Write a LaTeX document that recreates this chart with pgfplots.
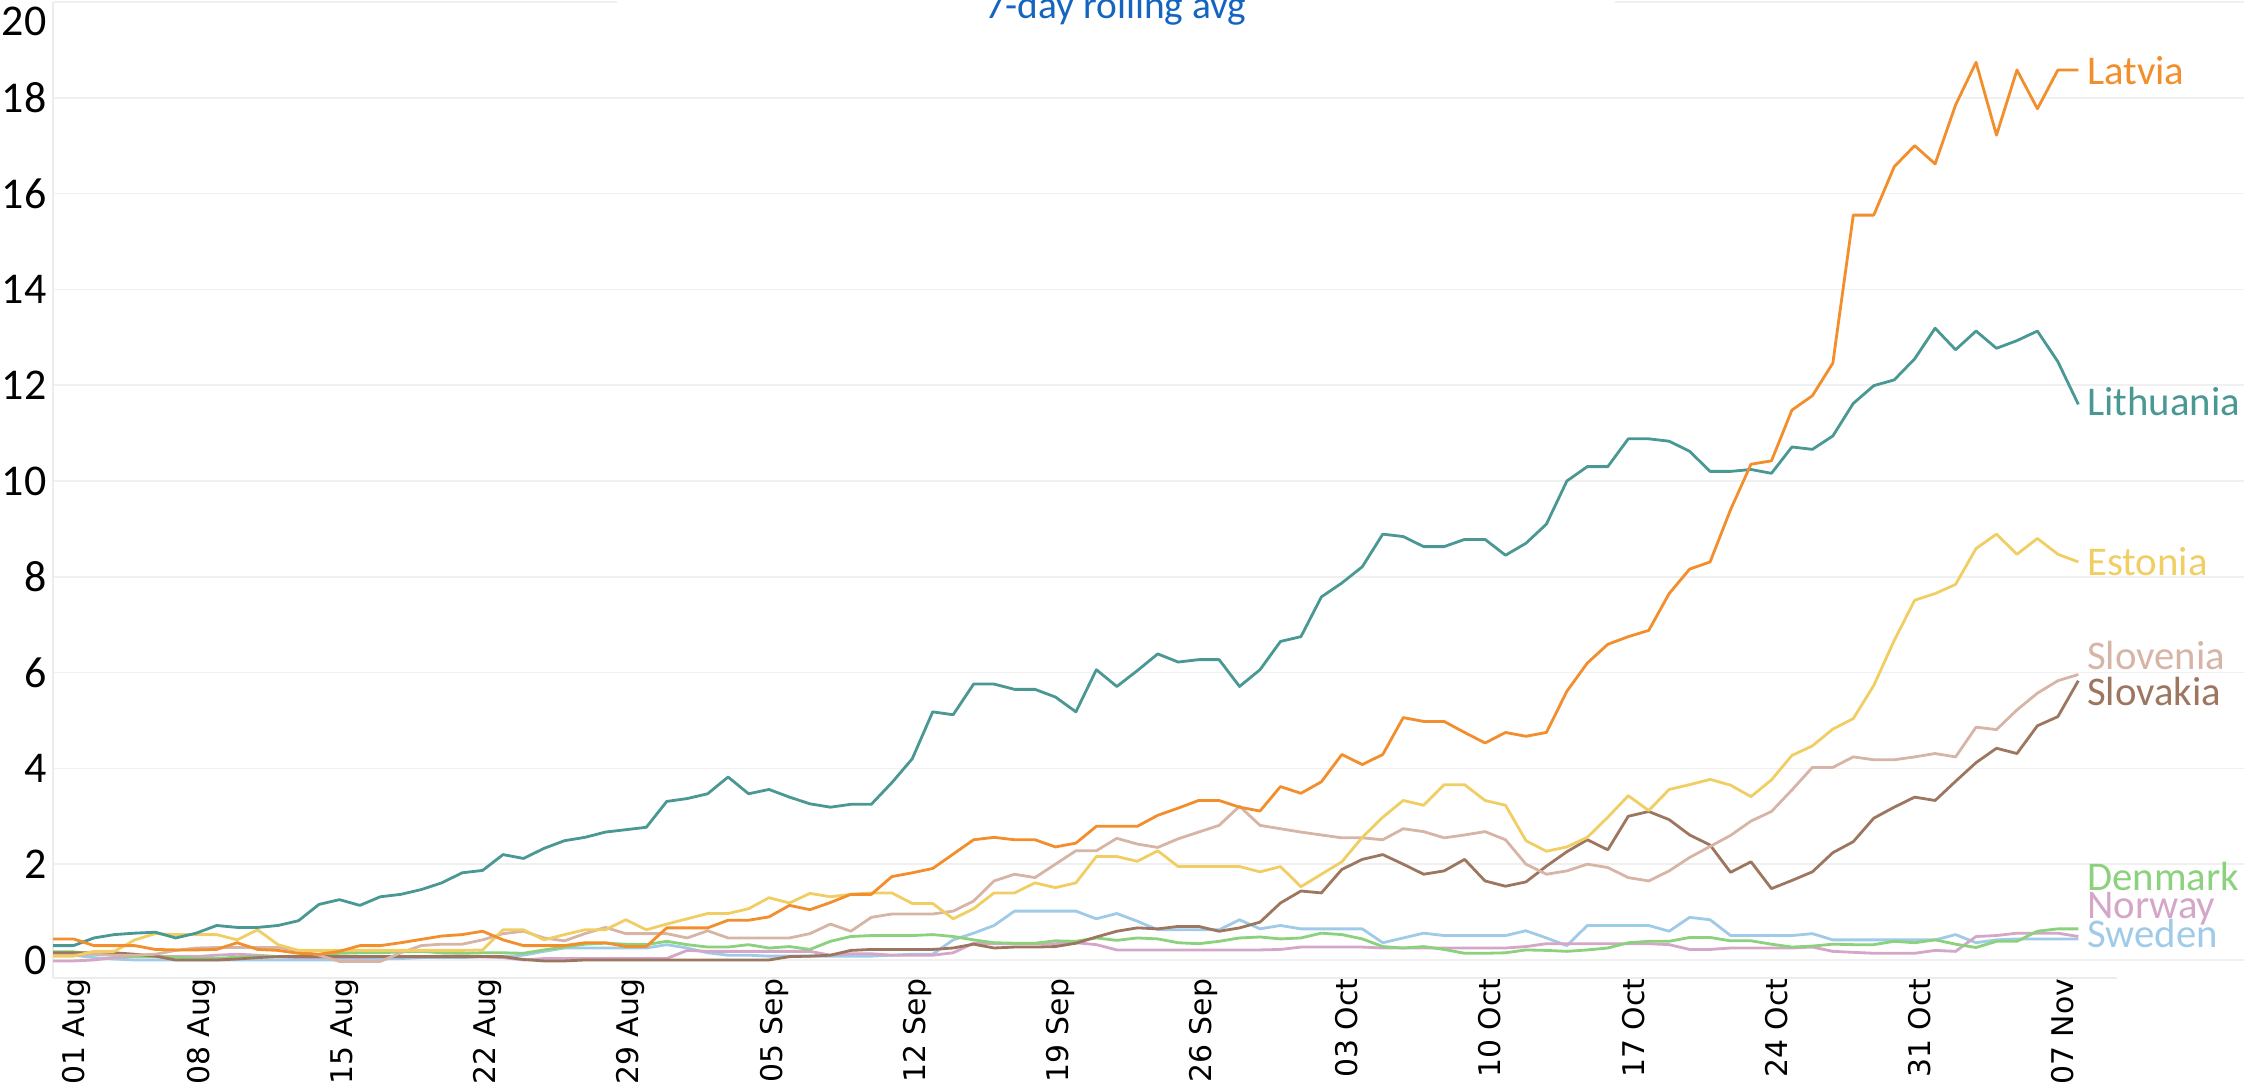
\documentclass[border=0pt]{standalone}
\usepackage{fontspec}
\setmainfont{Carlito}
\newfontfamily\dejavu{DejaVu Sans}
\usepackage{pgfplots}
\usepackage{pgfplotstable}
\pgfplotsset{compat=1.18}
\definecolor{clatvia}{HTML}{F28E2B}
\definecolor{clithuania}{HTML}{499894}
\definecolor{cestonia}{HTML}{F1CE63}
\definecolor{cslovenia}{HTML}{D7B5A6}
\definecolor{cslovakia}{HTML}{9D7660}
\definecolor{cdenmark}{HTML}{8CD17D}
\definecolor{cnorway}{HTML}{D4A6C8}
\definecolor{csweden}{HTML}{A0CBE8}
\definecolor{ctitle}{HTML}{1565C0}
\pgfplotstableread{
d Lv L E Sn Sk D N S
0 0.44 0.30 0.08 0.10 0.15 0.17 -0.02 0.10
1 0.44 0.30 0.08 0.10 0.15 0.17 -0.02 0.10
2 0.30 0.46 0.18 0.12 0.15 0.12 0.00 0.05
3 0.30 0.53 0.18 0.10 0.15 0.10 0.05 0.02
4 0.30 0.56 0.42 0.10 0.12 0.07 0.07 0.00
5 0.22 0.58 0.55 0.12 0.08 0.07 0.07 0.00
6 0.21 0.46 0.53 0.20 0.00 0.06 0.07 0.00
7 0.21 0.56 0.53 0.25 0.00 0.03 0.07 0.00
8 0.22 0.72 0.53 0.26 0.00 0.03 0.10 0.00
9 0.36 0.68 0.42 0.26 0.02 0.06 0.12 0.00
10 0.22 0.68 0.63 0.26 0.05 0.07 0.10 0.00
11 0.20 0.72 0.32 0.26 0.07 0.07 0.07 0.00
12 0.14 0.82 0.20 0.20 0.07 0.08 0.05 0.00
13 0.12 1.16 0.20 0.10 0.07 0.10 0.05 0.00
14 0.18 1.26 0.20 -0.03 0.07 0.14 0.05 0.00
15 0.30 1.14 0.20 -0.03 0.07 0.15 0.05 0.00
16 0.30 1.32 0.20 -0.03 0.07 0.15 0.07 0.02
17 0.36 1.37 0.20 0.15 0.07 0.17 0.07 0.03
18 0.43 1.47 0.20 0.30 0.07 0.18 0.07 0.05
19 0.50 1.61 0.20 0.33 0.07 0.15 0.08 0.05
20 0.53 1.82 0.20 0.33 0.07 0.14 0.08 0.05
21 0.60 1.87 0.21 0.42 0.07 0.15 0.07 0.07
22 0.42 2.20 0.63 0.55 0.07 0.15 0.05 0.07
23 0.30 2.12 0.63 0.60 0.01 0.14 0.00 0.10
24 0.30 2.33 0.42 0.46 -0.02 0.21 0.03 0.18
25 0.30 2.49 0.53 0.40 -0.02 0.27 0.03 0.25
26 0.36 2.56 0.63 0.55 0.00 0.33 0.03 0.25
27 0.36 2.67 0.63 0.68 0.00 0.35 0.03 0.25
28 0.28 2.72 0.84 0.55 0.00 0.33 0.03 0.25
29 0.28 2.77 0.63 0.55 0.00 0.32 0.03 0.25
30 0.67 3.31 0.75 0.55 0.00 0.39 0.03 0.32
31 0.67 3.37 0.86 0.46 0.00 0.32 0.20 0.25
32 0.67 3.47 0.97 0.61 0.00 0.27 0.18 0.15
33 0.83 3.82 0.97 0.46 0.00 0.27 0.18 0.10
34 0.83 3.47 1.07 0.46 0.00 0.32 0.18 0.10
35 0.90 3.56 1.30 0.46 0.00 0.25 0.18 0.08
36 1.14 3.40 1.19 0.46 0.07 0.28 0.18 0.08
37 1.05 3.26 1.39 0.55 0.08 0.22 0.18 0.08
38 1.20 3.19 1.32 0.75 0.10 0.39 0.10 0.08
39 1.37 3.25 1.37 0.60 0.20 0.49 0.13 0.08
40 1.37 3.25 1.40 0.89 0.22 0.51 0.13 0.08
41 1.74 3.70 1.40 0.96 0.22 0.51 0.10 0.10
42 1.82 4.20 1.18 0.96 0.22 0.51 0.10 0.12
43 1.91 5.18 1.18 0.96 0.22 0.53 0.10 0.12
44 2.21 5.12 0.86 1.02 0.25 0.49 0.15 0.42
45 2.51 5.76 1.07 1.23 0.33 0.42 0.35 0.56
46 2.56 5.76 1.40 1.65 0.25 0.36 0.34 0.72
47 2.51 5.65 1.40 1.79 0.27 0.35 0.34 1.02
48 2.51 5.65 1.61 1.72 0.27 0.35 0.34 1.02
49 2.36 5.49 1.51 2.00 0.28 0.40 0.34 1.02
50 2.44 5.18 1.61 2.28 0.35 0.39 0.36 1.02
51 2.79 6.06 2.16 2.28 0.48 0.46 0.32 0.86
52 2.79 5.71 2.16 2.54 0.60 0.41 0.21 0.97
53 2.79 6.04 2.06 2.42 0.67 0.46 0.21 0.81
54 3.02 6.39 2.28 2.35 0.65 0.44 0.21 0.63
55 3.17 6.22 1.95 2.53 0.70 0.36 0.21 0.63
56 3.33 6.27 1.95 2.67 0.70 0.34 0.21 0.63
57 3.33 6.27 1.95 2.81 0.60 0.39 0.21 0.63
58 3.19 5.71 1.95 3.21 0.67 0.46 0.21 0.84
59 3.11 6.06 1.84 2.81 0.79 0.48 0.21 0.65
60 3.62 6.65 1.95 2.74 1.19 0.44 0.22 0.72
61 3.48 6.75 1.53 2.67 1.44 0.46 0.27 0.65
62 3.72 7.58 1.79 2.61 1.40 0.56 0.27 0.65
63 4.29 7.87 2.05 2.55 1.89 0.53 0.27 0.65
64 4.08 8.21 2.56 2.55 2.10 0.44 0.27 0.65
65 4.29 8.89 2.98 2.51 2.20 0.28 0.25 0.36
66 5.06 8.84 3.33 2.74 2.00 0.25 0.25 0.46
67 4.98 8.63 3.23 2.68 1.79 0.28 0.25 0.56
68 4.98 8.63 3.66 2.55 1.86 0.22 0.25 0.51
69 4.75 8.78 3.66 2.61 2.10 0.14 0.25 0.51
70 4.53 8.78 3.33 2.68 1.65 0.14 0.25 0.51
71 4.75 8.45 3.23 2.51 1.54 0.15 0.25 0.51
72 4.67 8.70 2.49 2.00 1.63 0.21 0.28 0.61
73 4.75 9.10 2.27 1.79 1.96 0.20 0.34 0.46
74 5.61 10.00 2.36 1.86 2.26 0.18 0.34 0.30
75 6.20 10.30 2.56 2.00 2.51 0.21 0.34 0.72
76 6.59 10.30 2.98 1.93 2.30 0.25 0.34 0.72
77 6.75 10.88 3.43 1.72 3.00 0.36 0.34 0.72
78 6.88 10.88 3.12 1.65 3.10 0.39 0.34 0.72
79 7.65 10.83 3.56 1.86 2.93 0.39 0.32 0.60
80 8.16 10.62 3.66 2.14 2.61 0.47 0.22 0.89
81 8.31 10.20 3.77 2.37 2.40 0.47 0.22 0.84
82 9.40 10.20 3.65 2.60 1.83 0.40 0.25 0.51
83 10.35 10.24 3.41 2.90 2.05 0.40 0.25 0.51
84 10.42 10.16 3.76 3.10 1.49 0.33 0.25 0.51
85 11.48 10.71 4.27 3.55 1.66 0.27 0.25 0.51
86 11.78 10.66 4.47 4.02 1.84 0.29 0.27 0.55
87 12.46 10.94 4.82 4.02 2.24 0.33 0.18 0.42
88 15.55 11.62 5.04 4.24 2.47 0.32 0.16 0.42
89 15.55 11.99 5.73 4.18 2.96 0.32 0.14 0.42
90 16.56 12.11 6.67 4.18 3.19 0.39 0.14 0.42
91 17.00 12.55 7.51 4.24 3.40 0.36 0.14 0.42
92 16.62 13.19 7.65 4.31 3.33 0.42 0.20 0.42
93 17.85 12.74 7.84 4.24 3.73 0.33 0.18 0.53
94 18.74 13.13 8.59 4.86 4.12 0.26 0.49 0.36
95 17.22 12.77 8.89 4.81 4.42 0.39 0.51 0.42
96 18.58 12.93 8.47 5.22 4.31 0.39 0.56 0.44
97 17.77 13.13 8.80 5.57 4.89 0.60 0.56 0.44
98 18.58 12.49 8.47 5.83 5.08 0.65 0.56 0.44
99 18.58 11.60 8.31 5.96 5.83 0.65 0.49 0.44
}\datatable
\begin{document}
\begin{tikzpicture}
\begin{axis}[
  at={(5.3mm,11.1mm)}, anchor=south west,
  scale only axis, width=219.1mm, height=97.6mm,
  xmin=0, xmax=107.1, ymin=-0.376, ymax=20,
  axis line style={draw=none},
  major tick length=0pt,
  ymajorgrids, grid style={draw=gray!12, line width=0.5pt},
  ytick={0,2,...,20},
  yticklabels={0,2,4,6,8,10,12,14,16,18,{}},
  extra y ticks={19.59}, extra y tick labels={20},
  extra y tick style={grid=none},
  yticklabel style={anchor=east, inner sep=0pt, xshift=-0.6mm, font=\fontsize{12.5}{14}\selectfont},
  /pgf/number format/assume math mode=true,
  xtick={7,14,...,98},
  xticklabels={08 Aug,15 Aug,22 Aug,29 Aug,05 Sep,12 Sep,19 Sep,26 Sep,03 Oct,10 Oct,17 Oct,24 Oct,31 Oct,07 Nov},
  extra x ticks={0.9}, extra x tick labels={01 Aug},
  xticklabel style={rotate=90, anchor=east, inner sep=0pt, yshift=-0.5mm, font=\dejavu\fontsize{8.5}{10}\selectfont},
  every axis plot/.append style={line width=0.8pt, line join=round, mark=none},
  clip=false,
]
\draw[gray!15, line width=0.5pt] (axis cs:0,-0.376) -- (axis cs:0,20);
\draw[gray!15, line width=0.5pt] (axis cs:0,-0.376) -- (axis cs:100.9,-0.376);
\addplot[csweden] table[x=d,y=S] {\datatable};
\addplot[cnorway] table[x=d,y=N] {\datatable};
\addplot[cdenmark] table[x=d,y=D] {\datatable};
\addplot[cslovakia] table[x=d,y=Sk] {\datatable};
\addplot[cslovenia] table[x=d,y=Sn] {\datatable};
\addplot[cestonia] table[x=d,y=E] {\datatable};
\addplot[clithuania] table[x=d,y=L] {\datatable};
\addplot[clatvia] table[x=d,y=Lv] {\datatable};
\begin{scope}[every node/.style={anchor=west, inner sep=0pt, font=\fontsize{11.6}{14}\selectfont}]
\node[text=clatvia] at (axis cs:99.4,18.57) {Latvia};
\node[text=clithuania] at (axis cs:99.4,11.66) {Lithuania};
\node[text=cestonia] at (axis cs:99.4,8.31) {Estonia};
\node[text=cslovenia] at (axis cs:99.4,6.36) {Slovenia};
\node[text=cslovakia] at (axis cs:99.4,5.61) {Slovakia};
\node[text=cdenmark] at (axis cs:99.4,1.74) {Denmark};
\node[text=cnorway] at (axis cs:99.4,1.07) {Norway};
\node[text=csweden] at (axis cs:99.4,0.55) {Sweden};
\end{scope}
\end{axis}
\node[anchor=base, fill=white, minimum width=99.8mm, inner sep=0.8mm, text=ctitle, font=\fontsize{11.2}{14}\selectfont] at (111.6mm,107.0mm) {7-day rolling avg};
\pgfresetboundingbox
\path[use as bounding box] (0,0) rectangle (224.4mm,108.9mm);
\end{tikzpicture}
\end{document}
